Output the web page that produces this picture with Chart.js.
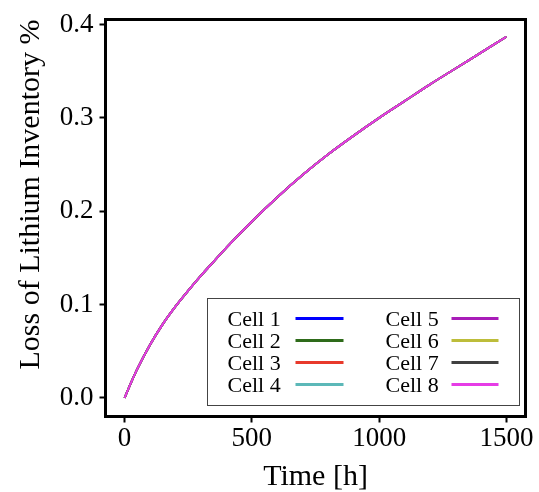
<!DOCTYPE html>
<html>
<head>
<meta charset="utf-8">
<script src="https://cdn.jsdelivr.net/npm/chart.js@4.4.1/dist/chart.umd.min.js"></script>
<style>
  html, body { margin: 0; padding: 0; background: #fff; }
  #wrap { width: 539px; height: 492px; }
</style>
</head>
<body>
<div id="wrap"><canvas id="lli" width="539" height="492"></canvas></div>
<script>
// time (h) and loss of lithium inventory (%)
// all 8 cells lie on the same curve, cell 8 is the one drawn on top
const timeHours = [0, 25, 50, 100, 150, 200, 250, 300, 350, 400, 500, 600, 700, 800, 900, 1000, 1100, 1200, 1300, 1400, 1500];
const lliPercent = [0, 0.016, 0.031, 0.057, 0.079, 0.098, 0.115, 0.131, 0.146, 0.161, 0.189, 0.215, 0.239, 0.261, 0.281, 0.300, 0.318, 0.336, 0.353, 0.370, 0.387];

const cellLabels = ['Cell 1', 'Cell 2', 'Cell 3', 'Cell 4', 'Cell 5', 'Cell 6', 'Cell 7', 'Cell 8'];
const cellColors = ['#0000ff', '#2e6b1a', '#e8392b', '#5cb8b8', '#a81cb8', '#bdbd3a', '#404040', '#e63ce6'];

const xTicks = [0, 500, 1000, 1500];
const yTicks = [0.0, 0.1, 0.2, 0.3, 0.4];

const serif = '"Liberation Serif", "DejaVu Serif", serif';

// frame around the plot + legend (text first, then line sample)
const frameAndLegend = {
  id: 'frameAndLegend',
  afterDraw(chart) {
    const { ctx, chartArea: a } = chart;
    ctx.save();
    ctx.strokeStyle = '#000';
    ctx.lineWidth = 3;
    ctx.strokeRect(a.left, a.top, a.right - a.left, a.bottom - a.top);

    const bx = Math.floor(a.left + 102) + 0.5;
    const by = Math.floor(a.bottom - 118) + 0.5;
    const bw = 312, bh = 107;
    ctx.fillStyle = '#fff';
    ctx.fillRect(bx, by, bw, bh);
    ctx.strokeStyle = '#444';
    ctx.lineWidth = 1;
    ctx.strokeRect(bx, by, bw, bh);

    ctx.font = '22px ' + serif;
    ctx.textAlign = 'left';
    ctx.textBaseline = 'middle';
    const cols = [{ text: 20, l0: 88, l1: 136 }, { text: 178, l0: 244, l1: 291 }];
    chart.data.datasets.forEach((ds, i) => {
      const col = cols[Math.floor(i / 4)];
      const y = by + 20 + (i % 4) * 22;
      ctx.fillStyle = '#000';
      ctx.fillText(ds.label, bx + col.text, y + 1.5);
      ctx.strokeStyle = ds.borderColor;
      ctx.lineWidth = 3;
      ctx.beginPath();
      ctx.moveTo(bx + col.l0, y);
      ctx.lineTo(bx + col.l1, y);
      ctx.stroke();
    });
    ctx.restore();
  }
};

const points = timeHours.map((t, i) => ({ x: t, y: lliPercent[i] }));

const datasets = cellLabels.map((label, i) => ({
  label: label,
  data: points,
  borderColor: cellColors[i],
  backgroundColor: cellColors[i],
  borderWidth: 2,
  pointRadius: 0,
  fill: false,
  cubicInterpolationMode: 'monotone',
  order: cellLabels.length - i // last cell on top
}));

new Chart(document.getElementById('lli').getContext('2d'), {
  type: 'line',
  data: { datasets: datasets },
  options: {
    responsive: false,
    animation: false,
    events: [],
    layout: { autoPadding: false, padding: { top: 16.5, right: 13.5, bottom: 0, left: 0 } },
    plugins: { legend: { display: false }, tooltip: { enabled: false } },
    scales: {
      x: {
        type: 'linear',
        min: -75,
        max: 1575,
        afterFit: (s) => { s.height = 75.5; },
        afterBuildTicks: (s) => { s.ticks = xTicks.map((v) => ({ value: v })); },
        border: { display: false },
        grid: { drawOnChartArea: false, drawTicks: true, tickLength: 6, tickWidth: 2, tickColor: '#000' },
        ticks: { color: '#000', padding: 3, maxRotation: 0, autoSkip: false, font: { family: serif, size: 27, lineHeight: 1 }, callback: (v) => String(v) },
        title: { display: true, text: 'Time [h]', color: '#000', padding: { top: 0, bottom: 0 }, font: { family: serif, size: 30, lineHeight: 1 } }
      },
      y: {
        type: 'linear',
        min: -0.020,
        max: 0.4055,
        afterFit: (s) => { s.width = 105.5; },
        afterBuildTicks: (s) => { s.ticks = yTicks.map((v) => ({ value: v })); },
        border: { display: false },
        grid: { drawOnChartArea: false, drawTicks: true, tickLength: 6, tickWidth: 2, tickColor: '#000' },
        ticks: { color: '#000', padding: 6, autoSkip: false, font: { family: serif, size: 27, lineHeight: 1 }, callback: (v) => v.toFixed(1) },
        title: { display: true, text: 'Loss of Lithium Inventory %', align: 'end', color: '#000', padding: { top: 16, bottom: 0 }, font: { family: serif, size: 30, lineHeight: 1 } }
      }
    }
  },
  plugins: [frameAndLegend]
});
</script>
</body>
</html>
